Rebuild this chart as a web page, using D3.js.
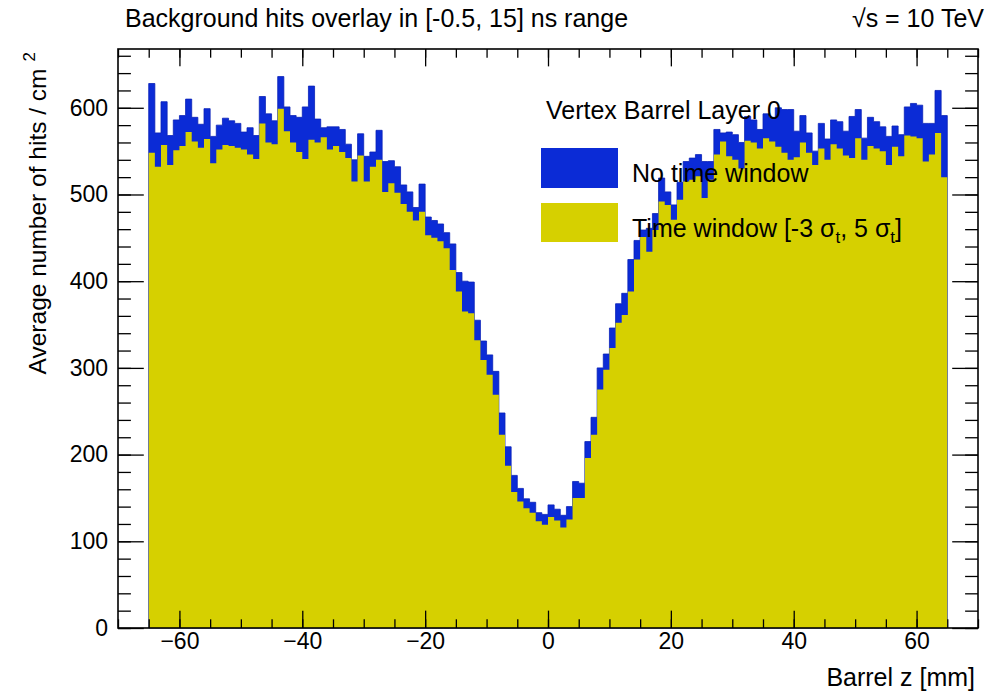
<!DOCTYPE html>
<html>
<head>
<meta charset="utf-8">
<script src="https://d3js.org/d3.v7.min.js"></script>
<style>
  body { margin: 0; background: #fff; }
  text { font-family: "Liberation Sans", Arial, Helvetica, sans-serif; fill: #000; }
</style>
</head>
<body>
<script>
// bins of 1 mm from -65 to 65 mm (130 bins)
var binLow = -65, binWidth = 1;
// "No time window" (blue)
var noWindow = [
  628, 571, 607, 568, 586, 591, 610, 589, 581, 599,
  567, 580, 588, 585, 582, 572, 577, 568, 613, 593,
  585, 636, 601, 591, 589, 601, 625, 587, 577, 578,
  578, 575, 558, 540, 570, 544, 549, 574, 538, 539,
  532, 511, 503, 485, 512, 474, 470, 466, 456, 443,
  410, 400, 399, 355, 331, 315, 296, 248, 209, 176,
  161, 149, 145, 133, 131, 142, 137, 130, 140, 169,
  167, 215, 243, 300, 316, 346, 374, 386, 425, 447,
  459, 461, 478, 519, 503, 488, 514, 538, 542, 546,
  538, 538, 575, 571, 572, 569, 560, 590, 586, 575,
  593, 589, 600, 598, 598, 573, 591, 571, 550, 582,
  564, 586, 584, 573, 590, 598, 565, 589, 584, 578,
  567, 579, 569, 601, 605, 603, 582, 582, 620, 591
];
// "Time window [-3 sigma_t, 5 sigma_t]" (yellow)
var timeWindow = [
  548, 532, 557, 534, 551, 556, 572, 561, 554, 564,
  536, 552, 557, 556, 554, 552, 546, 541, 582, 560,
  558, 599, 573, 560, 549, 541, 563, 560, 566, 552,
  556, 549, 542, 515, 545, 515, 532, 540, 503, 513,
  502, 489, 480, 470, 480, 453, 450, 446, 438, 413,
  388, 365, 363, 332, 309, 292, 269, 223, 187, 157,
  146, 138, 133, 123, 119, 128, 124, 116, 125, 150,
  150, 196, 223, 275, 298, 323, 352, 361, 388, 425,
  451, 434, 459, 492, 488, 471, 494, 515, 517, 521,
  496, 517, 546, 561, 544, 540, 530, 562, 560, 553,
  565, 561, 555, 548, 540, 543, 560, 548, 534, 553,
  540, 558, 553, 545, 542, 565, 540, 556, 553, 550,
  534, 555, 544, 568, 567, 565, 538, 546, 571, 520
];
var xTicks = [-60, -40, -20, 0, 20, 40, 60];
var yTicks = [0, 100, 200, 300, 400, 500, 600];
var xDomain = [-70, 70];
var yMax = 1.05 * d3.max(noWindow);

var W = 987, H = 692;
var margin = {top: 49, left: 118, right: 9, bottom: 64};
var fw = W - margin.left - margin.right, fh = H - margin.top - margin.bottom;
var blue = "#0b2bd6", yellow = "#d6d000";

var svg = d3.select("body").append("svg").attr("width", W).attr("height", H);

var x = d3.scaleLinear().domain(xDomain).range([margin.left, margin.left + fw]);
var y = d3.scaleLinear().domain([0, yMax]).range([margin.top + fh, margin.top]);

function steps(vals) {
  var pts = vals.map(function(v, i) { return [binLow + i * binWidth, v]; });
  pts.push([binLow + vals.length * binWidth, vals[vals.length - 1]]);
  return pts;
}
var area = d3.area()
  .x(function(d) { return x(d[0]); })
  .y0(y(0))
  .y1(function(d) { return y(d[1]); })
  .curve(d3.curveStepAfter);

svg.append("path").datum(steps(noWindow)).attr("d", area)
  .attr("fill", blue).attr("stroke", "#0a22b8").attr("stroke-width", 0.8);
svg.append("path").datum(steps(timeWindow)).attr("d", area)
  .attr("fill", yellow);

// axes, ROOT style: ticks inside on all four sides
var xMajor = 0.03 * fh, yMajor = 0.03 * fw;
var xb = svg.append("g").attr("transform", "translate(0," + (margin.top + fh) + ")")
  .call(d3.axisBottom(x).tickValues(xTicks).tickSize(-xMajor).tickPadding(5)
    .tickFormat(function(d) { return d < 0 ? "\u2212" + (-d) : d; }));
xb.select(".domain").remove();
xb.selectAll("text").attr("font-size", 23);
svg.append("g").attr("transform", "translate(0," + (margin.top + fh) + ")")
  .call(d3.axisBottom(x).tickValues(d3.range(-70, 71, 5)).tickSize(-xMajor / 2).tickFormat(""))
  .select(".domain").remove();
svg.append("g").attr("transform", "translate(0," + margin.top + ")")
  .call(d3.axisTop(x).tickValues(xTicks).tickSize(-xMajor).tickFormat(""))
  .select(".domain").remove();
svg.append("g").attr("transform", "translate(0," + margin.top + ")")
  .call(d3.axisTop(x).tickValues(d3.range(-70, 71, 5)).tickSize(-xMajor / 2).tickFormat(""))
  .select(".domain").remove();

var yl = svg.append("g").attr("transform", "translate(" + margin.left + ",0)")
  .call(d3.axisLeft(y).tickValues(yTicks).tickSize(-yMajor).tickPadding(10));
yl.select(".domain").remove();
yl.selectAll("text").attr("font-size", 23);
svg.append("g").attr("transform", "translate(" + margin.left + ",0)")
  .call(d3.axisLeft(y).tickValues(d3.range(0, yMax, 20)).tickSize(-yMajor / 2).tickFormat(""))
  .select(".domain").remove();
svg.append("g").attr("transform", "translate(" + (margin.left + fw) + ",0)")
  .call(d3.axisRight(y).tickValues(yTicks).tickSize(-yMajor).tickFormat(""))
  .select(".domain").remove();
svg.append("g").attr("transform", "translate(" + (margin.left + fw) + ",0)")
  .call(d3.axisRight(y).tickValues(d3.range(0, yMax, 20)).tickSize(-yMajor / 2).tickFormat(""))
  .select(".domain").remove();
svg.selectAll(".tick line").attr("stroke", "#000").attr("stroke-width", 1.3);

svg.append("rect").attr("x", margin.left).attr("y", margin.top)
  .attr("width", fw).attr("height", fh)
  .attr("fill", "none").attr("stroke", "#000").attr("stroke-width", 1.6);

// titles
svg.append("text").attr("x", 125).attr("y", 27).attr("font-size", 25)
  .text("Background hits overlay in [-0.5, 15] ns range");
svg.append("text").attr("x", 984).attr("y", 27).attr("font-size", 25).attr("text-anchor", "end")
  .text("\u221As = 10 TeV");

svg.append("text").attr("x", 975).attr("y", 686).attr("font-size", 25)
  .attr("text-anchor", "end").text("Barrel z [mm]");

var yt = svg.append("text").attr("transform", "translate(46,52) rotate(-90)")
  .attr("font-size", 24.5).attr("text-anchor", "end");
yt.append("tspan").text("Average number of hits / cm");
yt.append("tspan").attr("dx", 7).attr("dy", -11).attr("font-size", 17).text("2");

// legend
svg.append("text").attr("x", 546).attr("y", 119).attr("font-size", 25).text("Vertex Barrel Layer 0");
svg.append("rect").attr("x", 541).attr("y", 148).attr("width", 77).attr("height", 40).attr("fill", blue);
svg.append("rect").attr("x", 541).attr("y", 203).attr("width", 77).attr("height", 39).attr("fill", yellow);
svg.append("text").attr("x", 632).attr("y", 182).attr("font-size", 25).text("No time window");
var lt = svg.append("text").attr("x", 632).attr("y", 237).attr("font-size", 25);
lt.append("tspan").text("Time window [-3 \u03C3");
lt.append("tspan").attr("dy", 6).attr("font-size", 17).text("t");
lt.append("tspan").attr("dy", -6).text(", 5 \u03C3");
lt.append("tspan").attr("dy", 6).attr("font-size", 17).text("t");
lt.append("tspan").attr("dy", -6).text("]");
</script>
</body>
</html>
